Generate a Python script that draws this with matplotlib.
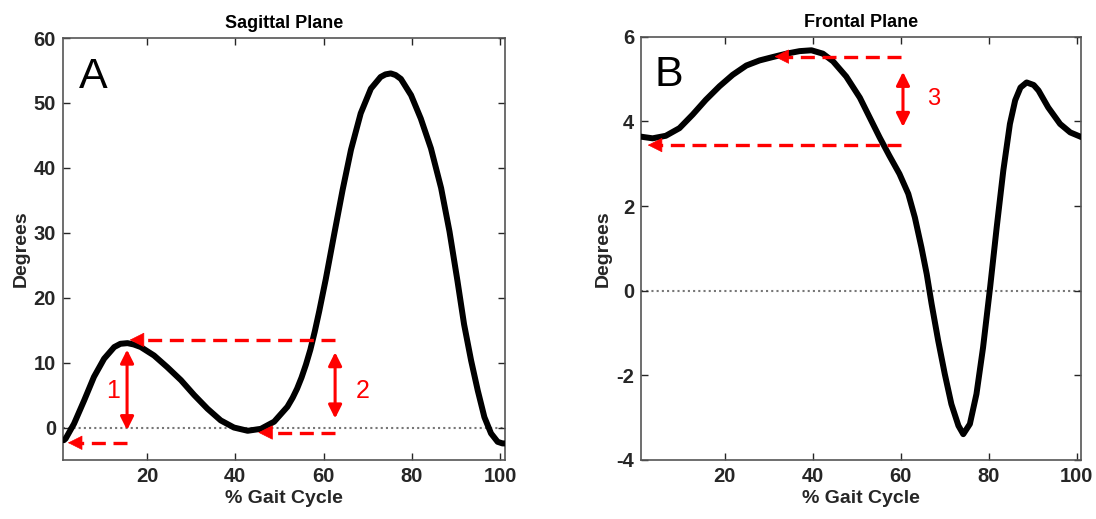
import numpy as np
import matplotlib.pyplot as plt

plt.rcParams['font.family'] = ['Liberation Sans', 'DejaVu Sans']
plt.rcParams['axes.unicode_minus'] = False

# sagittal plane curve
sag_x = [1.2, 1.6, 3.5, 5.8, 8.0, 10.3, 12.6, 14.0, 15.6, 17.0, 18.6, 21.6, 24.6,
         27.7, 30.7, 33.7, 36.7, 39.7, 42.8, 45.8, 48.8, 51.8, 53.0, 54.0, 55.0,
         56.0, 57.0, 58.0, 59.0, 60.5, 62.4, 64.3, 66.2, 68.4, 70.7, 72.9, 74.0,
         75.2, 76.3, 77.5, 79.8, 82.0, 84.3, 86.6, 88.5, 90.3, 91.8, 93.4, 94.9,
         96.4, 97.9, 99.4, 100.5, 101.0]
sag_y = [-1.95, -1.7, 0.6, 4.2, 7.8, 10.6, 12.4, 12.9, 13.0, 12.8, 12.4, 11.1, 9.3,
         7.3, 5.0, 2.9, 1.1, 0.0, -0.5, -0.2, 0.9, 3.2, 4.6, 6.0, 7.7,
         9.7, 12.0, 14.8, 17.9, 22.9, 29.8, 36.6, 42.8, 48.4, 52.2, 54.0, 54.4,
         54.55, 54.3, 53.7, 51.2, 47.6, 43.0, 36.9, 30.2, 22.6, 15.9, 10.3, 5.7,
         1.6, -0.9, -2.2, -2.45, -2.45]

# frontal plane curve
fro_x = [0.9, 3.6, 6.6, 9.7, 12.7, 15.7, 18.8, 21.8, 24.9, 27.9, 30.9, 34.0,
         37.0, 39.7, 42.3, 44.6, 47.6, 50.7, 52.9, 55.2, 57.4, 59.7, 61.7, 63.2,
         64.7, 65.9, 67.0, 68.5, 70.0, 71.5, 73.1, 74.2, 75.7, 77.2, 78.7, 80.3,
         81.8, 83.3, 84.8, 86.0, 87.2, 88.6, 90.2, 91.3, 93.5, 96.2, 98.5, 100.8,
         101.0]
fro_y = [3.64, 3.60, 3.66, 3.84, 4.16, 4.51, 4.83, 5.10, 5.32, 5.44, 5.52, 5.60,
         5.66, 5.68, 5.60, 5.42, 5.06, 4.56, 4.10, 3.62, 3.19, 2.76, 2.29, 1.73,
         1.02, 0.39, -0.31, -1.18, -1.97, -2.68, -3.19, -3.39, -3.15, -2.44, -1.34, 0.08,
         1.50, 2.84, 3.94, 4.50, 4.80, 4.92, 4.86, 4.73, 4.33, 3.94, 3.74, 3.64,
         3.63]

RED = '#ff0000'
GREY = '#262626'


def dashed_arrow(ax, x0, x1, y):
    # dashed shaft plus solid head pointing at x1
    ax.plot([x0, x1 + 2.0], [y, y], color=RED, lw=2.4, ls=(0, (4.2, 2.3)),
            dash_capstyle='butt', zorder=4)
    ax.annotate('', xy=(x1, y), xytext=(x1 + 3.0, y),
                arrowprops=dict(arrowstyle='-|>', color=RED, lw=0.5,
                                mutation_scale=24, shrinkA=0, shrinkB=0), zorder=4)


def double_arrow(ax, x, y0, y1):
    ax.annotate('', xy=(x, y1), xytext=(x, y0),
                arrowprops=dict(arrowstyle='<|-|>', color=RED, lw=2.2,
                                mutation_scale=20, shrinkA=0, shrinkB=0), zorder=4)


def style(ax, title):
    ax.set_title(title, fontsize=13, fontweight='bold', pad=7)
    ax.set_xlabel('% Gait Cycle', fontsize=14, fontweight='bold', color=GREY, labelpad=3)
    ax.set_ylabel('Degrees', fontsize=14, fontweight='bold', color=GREY, labelpad=3)
    ax.tick_params(direction='in', top=True, right=True, length=5, width=1,
                   colors=GREY, labelsize=14.5, pad=5)
    for lab in ax.get_xticklabels() + ax.get_yticklabels():
        lab.set_fontweight('bold')
    for s in ax.spines.values():
        s.set_color('#555555')
        s.set_linewidth(1.2)


fig = plt.figure(figsize=(10.96, 5.19), dpi=100)
axA = fig.add_axes([0.0575, 0.1137, 0.403, 0.813])
axB = fig.add_axes([0.585, 0.1137, 0.4015, 0.8155])

# panel A
axA.axhline(0, color='#777777', lw=1.5, ls=(0, (1, 1.5)), zorder=1)
axA.plot(sag_x, sag_y, color='black', lw=4.3, solid_capstyle='round',
         solid_joinstyle='round', zorder=3)
axA.set_xlim(1, 101)
axA.set_ylim(-5, 60)
axA.set_xticks([20, 40, 60, 80, 100])
axA.set_yticks([0, 10, 20, 30, 40, 50, 60])
dashed_arrow(axA, 62.6, 16.1, 13.5)
dashed_arrow(axA, 15.5, 2.1, -2.35)
dashed_arrow(axA, 62.6, 45.2, -0.77)
double_arrow(axA, 15.5, -0.4, 12.0)
double_arrow(axA, 62.6, 1.4, 11.6)
axA.text(12.3, 5.6, '1', color=RED, fontsize=18, ha='center', va='center')
axA.text(68.8, 5.6, '2', color=RED, fontsize=18, ha='center', va='center')
axA.text(7.8, 54.0, 'A', color='black', fontsize=31, ha='center', va='center')
style(axA, 'Sagittal Plane')

# panel B
axB.axhline(0, color='#777777', lw=1.5, ls=(0, (1, 1.5)), zorder=1)
axB.plot(fro_x, fro_y, color='black', lw=4.3, solid_capstyle='round',
         solid_joinstyle='round', zorder=3)
axB.set_xlim(1, 101)
axB.set_ylim(-4, 6)
axB.set_xticks([20, 40, 60, 80, 100])
axB.set_yticks([-4, -2, 0, 2, 4, 6])
dashed_arrow(axB, 60.1, 31.3, 5.53)
dashed_arrow(axB, 60.1, 2.5, 3.44)
double_arrow(axB, 60.5, 3.87, 5.17)
axB.text(67.4, 4.52, '3', color=RED, fontsize=17, ha='center', va='center')
axB.text(7.3, 5.1, 'B', color='black', fontsize=31, ha='center', va='center')
style(axB, 'Frontal Plane')

fig.savefig('out.png', dpi=100)
